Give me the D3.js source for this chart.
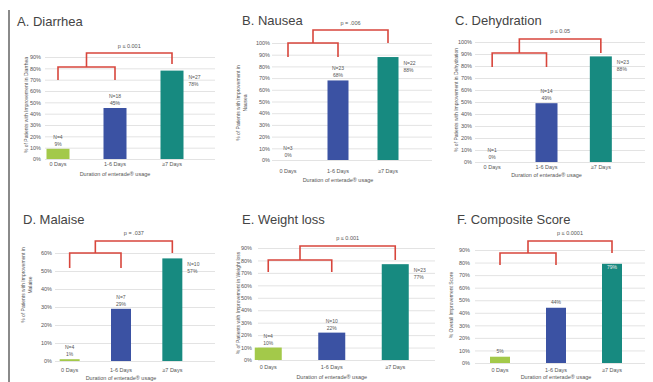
<!DOCTYPE html>
<html>
<head>
<meta charset="utf-8">
<script src="https://cdn.jsdelivr.net/npm/d3@7"></script>
<style>
  body { margin: 0; background: #fff; }
  svg { font-family: "Liberation Sans", Arial, sans-serif; }
</style>
</head>
<body>
<svg id="chart" width="653" height="382"></svg>
<script>
// data
const categories = ["0 Days", "1-6 Days", "\u22657 Days"];
const titles = ["A. Diarrhea", "B. Nausea", "C. Dehydration", "D. Malaise", "E. Weight loss", "F. Composite Score"];
const diarrhea = [9, 45, 78];
const nausea = [0, 68, 88];
const dehydration = [0, 49, 88];
const malaise = [1, 29, 57];
const weightLoss = [10, 22, 77];
const composite = [5, 44, 79];
const nDiarrhea = ["N=4", "N=18", "N=27"];
const nNausea = ["N=3", "N=23", "N=22"];
const nDehydration = ["N=1", "N=14", "N=23"];
const nMalaise = ["N=4", "N=7", "N=10"];
const nWeightLoss = ["N=4", "N=10", "N=23"];
const pValues = ["p \u2264 0.001", "p = .006", "p \u2264 0.05", "p = .037", "p \u2264 0.001", "p \u2264 0.0001"];
const yMax = [90, 100, 100, 60, 90, 90];
const yTitles = [
  ["% of Patients with Improvement in Diarrhea"],
  ["% of Patients with Improvement in", "Nausea"],
  ["% of Patients with Improvement in Dehydration"],
  ["% of Patients with Improvement in", "Malaise"],
  ["% of Patients with Improvement in Weight loss"],
  ["% Overall Improvement Score"]
];
const xTitle = "Duration of enterade\u00ae usage";

const series = [diarrhea, nausea, dehydration, malaise, weightLoss, composite];
const nLabels = [nDiarrhea, nNausea, nDehydration, nMalaise, nWeightLoss, null];

// layout (pixels)
const layout = [
  {tx: 17, ty: 26, y0: 159, y1: 57, gl: 45, gr: 215, lx: 41, xr: [29.5, 200.5], bw: 23, xl: 166, xt: 176, ytx: 28, yty: 105,
   low: 67, lowLeg: 80, up: 53, upLeg: 64, py: 48},
  {tx: 242, ty: 25, y0: 160, y1: 43, gl: 272, gr: 432, lx: 270, xr: [263, 413], bw: 21, xl: 173, xt: 182, ytx: 240, yty: 103,
   low: 43, lowLeg: 57, up: 30, upLeg: 43, py: 25},
  {tx: 455, ty: 25, y0: 162, y1: 42, gl: 475, gr: 645, lx: 472, xr: [465, 628], bw: 22, xl: 169, xt: 177, ytx: 458, yty: 100,
   low: 53, lowLeg: 67, up: 39, upLeg: 53, py: 33},
  {tx: 23, ty: 224, y0: 361, y1: 253, gl: 55, gr: 215, lx: 52, xr: [44, 198], bw: 20, xl: 372, xt: 380, ytx: 25, yty: 285,
   low: 253, lowLeg: 268, up: 241, upLeg: 253, py: 235},
  {tx: 242, ty: 224, y0: 360, y1: 248, gl: 258, gr: 435, lx: 252, xr: [236.5, 427], bw: 27, xl: 369, xt: 379, ytx: 240, yty: 303,
   low: 260, lowLeg: 272, up: 246, upLeg: 260, py: 240},
  {tx: 457, ty: 224, y0: 363, y1: 250, gl: 475, gr: 645, lx: 470, xr: [472, 640], bw: 20, xl: 372, xt: 379, ytx: 453, yty: 305,
   low: 253, lowLeg: 265, up: 241, upLeg: 253, py: 235}
];

const colors = ["#a3c94a", "#3b52a3", "#178a80"];
const red = "#d8463c";
const textCol = "#555";

const svg = d3.select("#chart");

// left frame line
svg.append("line")
  .attr("x1", 9).attr("x2", 9).attr("y1", 10).attr("y2", 382)
  .attr("stroke", "#8a8a8a").attr("stroke-width", 2);

series.forEach((vals, i) => {
  const L = layout[i];
  const g = svg.append("g");

  const y = d3.scaleLinear().domain([0, yMax[i]]).range([L.y0, L.y1]);
  const x = d3.scaleBand().domain(categories).range(L.xr);

  // title
  g.append("text")
    .attr("x", L.tx).attr("y", L.ty)
    .attr("font-size", 13).attr("fill", "#444")
    .text(titles[i]);

  // y axis with gridlines
  const yAxis = d3.axisLeft(y)
    .tickValues(d3.range(0, yMax[i] + 1, 10))
    .tickFormat(d => d + "%")
    .tickSizeInner(-(L.gr - L.gl))
    .tickSizeOuter(0)
    .tickPadding(L.gl - L.lx);
  const ya = g.append("g").attr("transform", `translate(${L.gl},0)`).call(yAxis);
  ya.select(".domain").remove();
  ya.selectAll(".tick line").attr("stroke", "#dcdcdc").attr("stroke-width", 0.8);
  ya.selectAll(".tick text").attr("font-size", 5.5).attr("fill", textCol).attr("font-family", "Liberation Sans, Arial, sans-serif");

  // y title
  const yt = g.append("text")
    .attr("transform", `translate(${L.ytx},${L.yty}) rotate(-90)`)
    .attr("text-anchor", "middle")
    .attr("font-size", 5).attr("fill", textCol);
  yTitles[i].forEach((line, k) => {
    yt.append("tspan").attr("x", 0).attr("dy", k === 0 ? 0 : 6.5).text(line);
  });

  // bars
  const cx = c => x(c) + x.bandwidth() / 2;
  g.selectAll("rect.bar").data(vals).join("rect")
    .attr("class", "bar")
    .attr("x", (d, k) => cx(categories[k]) - L.bw / 2)
    .attr("width", L.bw)
    .attr("y", d => y(d))
    .attr("height", d => L.y0 - y(d))
    .attr("fill", (d, k) => colors[k]);

  // bar labels
  vals.forEach((v, k) => {
    const c = cx(categories[k]);
    const top = y(v);
    const n = nLabels[i];
    if (!n) {
      const inside = k === 2;
      g.append("text")
        .attr("x", c).attr("y", inside ? top + 5 : top - 4)
        .attr("text-anchor", "middle").attr("font-size", 5)
        .attr("fill", inside ? "#eee" : textCol)
        .text(v + "%");
      return;
    }
    if (k < 2) {
      g.append("text").attr("x", c).attr("y", top - 10)
        .attr("text-anchor", "middle").attr("font-size", 5).attr("fill", textCol).text(n[k]);
      g.append("text").attr("x", c).attr("y", top - 3)
        .attr("text-anchor", "middle").attr("font-size", 5).attr("fill", textCol).text(v + "%");
    } else {
      const rx = c + L.bw / 2 + 5;
      g.append("text").attr("x", rx).attr("y", top + 8)
        .attr("font-size", 5).attr("fill", textCol).text(n[k]);
      g.append("text").attr("x", rx).attr("y", top + 15)
        .attr("font-size", 5).attr("fill", textCol).text(v + "%");
    }
  });

  // x axis labels
  const xAxis = d3.axisBottom(x).tickSize(0).tickPadding(0);
  const xa = g.append("g").attr("transform", `translate(0,${L.xl - 4})`).call(xAxis);
  xa.select(".domain").remove();
  xa.selectAll(".tick text").attr("font-size", 5.5).attr("fill", textCol).attr("font-family", "Liberation Sans, Arial, sans-serif");

  g.append("text")
    .attr("x", (L.xr[0] + L.xr[1]) / 2).attr("y", L.xt)
    .attr("text-anchor", "middle").attr("font-size", 5.5).attr("fill", textCol)
    .text(xTitle);

  // significance brackets
  const c0 = cx(categories[0]), c1 = cx(categories[1]), c2 = cx(categories[2]);
  const mid = (c0 + c1) / 2;
  const path = d3.path();
  path.moveTo(c0, L.lowLeg); path.lineTo(c0, L.low); path.lineTo(c1, L.low); path.lineTo(c1, L.lowLeg);
  path.moveTo(mid, L.low); path.lineTo(mid, L.up); path.lineTo(c2, L.up); path.lineTo(c2, L.upLeg);
  g.append("path").attr("d", path.toString())
    .attr("fill", "none").attr("stroke", red).attr("stroke-width", 1.6);

  g.append("text")
    .attr("x", (mid + c2) / 2).attr("y", L.py)
    .attr("text-anchor", "middle").attr("font-size", 5.5).attr("fill", textCol)
    .text(pValues[i]);
});
</script>
</body>
</html>
